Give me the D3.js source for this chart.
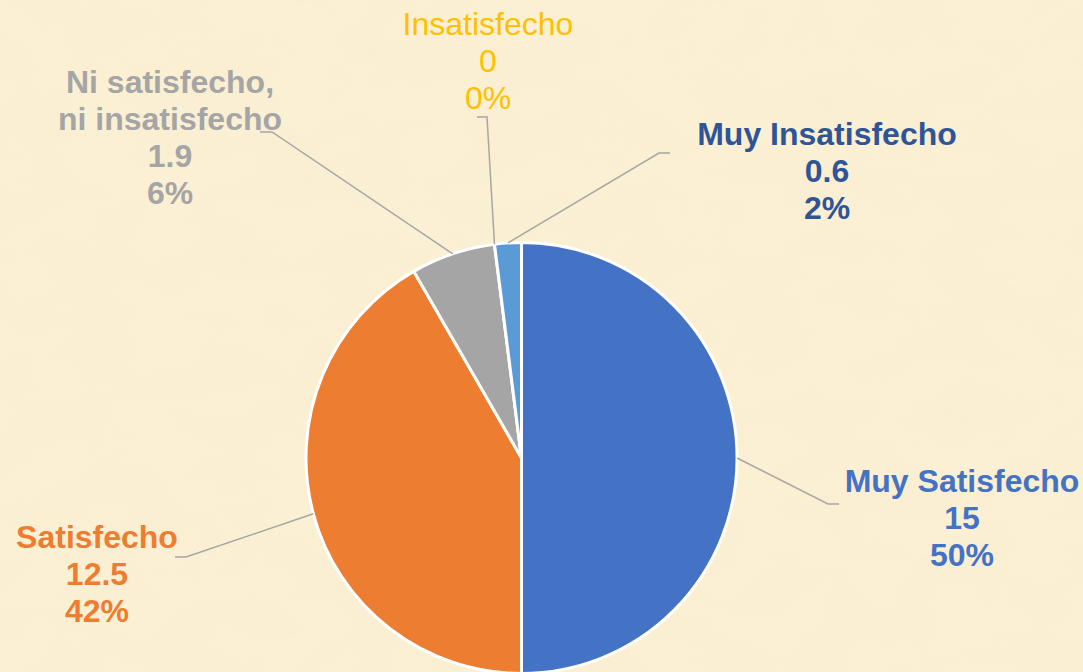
<!DOCTYPE html>
<html>
<head>
<meta charset="utf-8">
<script src="https://cdn.jsdelivr.net/npm/d3@7"></script>
<style>
  html, body { margin: 0; padding: 0; background: #faedcd; }
  svg { display: block; }
</style>
</head>
<body>
<svg id="chart"></svg>
<script>
// data
const categories = ["Muy Satisfecho", "Satisfecho", "Ni satisfecho, ni insatisfecho", "Insatisfecho", "Muy Insatisfecho"];
const values = [15, 12.5, 1.9, 0, 0.6];
const valueLabels = ["15", "12.5", "1.9", "0", "0.6"];
const labelLines = [["Muy Satisfecho"], ["Satisfecho"], ["Ni satisfecho,", "ni insatisfecho"], ["Insatisfecho"], ["Muy Insatisfecho"]];

// styling / layout
const sliceColors = ["#4472c4", "#ed7d31", "#a5a5a5", "#ffc000", "#5b9bd5"];
const textColors = ["#4472c4", "#ed7d31", "#a5a5a5", "#ffc000", "#2f5597"];
const boldLabel = [true, true, true, false, true];
// label placement (text centre x, first baseline y, leader elbow and end)
const labelLayout = [
    {cx: 962, y: 492, elbow: [828, 504], end: 839},
    {cx: 97, y: 548, elbow: [186, 557], end: 175},
    {cx: 170, y: 93, elbow: [272, 132], end: 260},
    {cx: 488, y: 35, elbow: [487, 117], end: 477},
    {cx: 827, y: 145, elbow: [659, 153], end: 670}
];

const width = 1083, height = 672;
const cx = 521.5, cy = 458, radius = 215.5;
const lineHeight = 37;

const svg = d3.select("#chart")
    .attr("width", width)
    .attr("height", height);

// parchment background
const defs = svg.append("defs");
const filt = defs.append("filter").attr("id", "paper")
    .attr("x", 0).attr("y", 0).attr("width", "100%").attr("height", "100%");
filt.append("feTurbulence")
    .attr("type", "fractalNoise")
    .attr("baseFrequency", "0.015 0.025")
    .attr("numOctaves", 3)
    .attr("seed", 7)
    .attr("result", "noise");
filt.append("feColorMatrix")
    .attr("in", "noise")
    .attr("type", "matrix")
    .attr("values", "0 0 0 0 0.92  0 0 0 0 0.84  0 0 0 0 0.62  0 0 0 0.7 -0.2")
    .attr("result", "tint");
filt.append("feComposite").attr("in", "tint").attr("in2", "SourceGraphic").attr("operator", "in");

svg.append("rect")
    .attr("width", width).attr("height", height)
    .attr("fill", "#fcf0d4");
svg.append("rect")
    .attr("width", width).attr("height", height)
    .attr("fill", "#fff")
    .attr("filter", "url(#paper)");

const total = d3.sum(values);
const rows = categories.map((c, i) => ({i: i, name: c, value: values[i]}));

const pie = d3.pie()
    .value(d => d.value)
    .sort(null);

const arcs = pie(rows);

const arc = d3.arc()
    .innerRadius(0)
    .outerRadius(radius);

const g = svg.append("g")
    .attr("transform", `translate(${cx},${cy})`);

g.selectAll("path.slice")
    .data(arcs)
    .join("path")
    .attr("class", "slice")
    .attr("d", arc)
    .attr("fill", d => sliceColors[d.data.i])
    .attr("stroke", "#fff")
    .attr("stroke-width", 3)
    .attr("stroke-linejoin", "round");

// leader lines
arcs.forEach(d => {
    const lay = labelLayout[d.data.i];
    const mid = (d.startAngle + d.endAngle) / 2;
    const sx = cx + Math.sin(mid) * radius;
    const sy = cy - Math.cos(mid) * radius;
    svg.append("polyline")
        .attr("points", `${sx},${sy} ${lay.elbow[0]},${lay.elbow[1]} ${lay.end},${lay.elbow[1]}`)
        .attr("fill", "none")
        .attr("stroke", "#a6a6a6")
        .attr("stroke-width", 1.5);
});

// labels
arcs.forEach(d => {
    const i = d.data.i;
    const lay = labelLayout[i];
    const pct = d3.format(".0%")(d.value / total);
    const lines = labelLines[i].concat([valueLabels[i], pct]);
    const t = svg.append("text")
        .attr("x", lay.cx)
        .attr("y", lay.y)
        .attr("text-anchor", "middle")
        .style("font-family", "'Liberation Sans', Arial, sans-serif")
        .style("font-size", "32px")
        .style("font-weight", boldLabel[i] ? "700" : "400")
        .attr("fill", textColors[i]);
    lines.forEach((ln, k) => {
        t.append("tspan")
            .attr("x", lay.cx)
            .attr("y", lay.y + k * lineHeight)
            .text(ln);
    });
});
</script>
</body>
</html>
